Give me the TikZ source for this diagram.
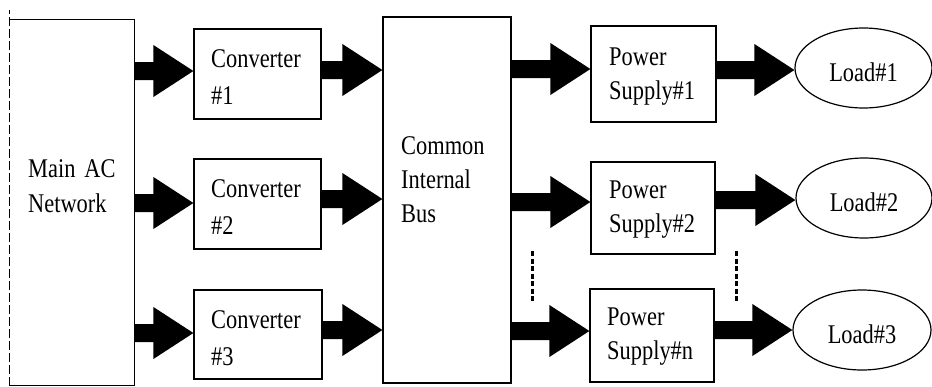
\documentclass[tikz,border=0pt]{standalone}
\usepackage{fontspec}
\setmainfont{Liberation Serif}[FakeStretch=0.83]
\usetikzlibrary{calc,shapes.geometric}
\tikzset{
  box/.style={draw, line width=1.2pt, rectangle, inner sep=0pt},
  loadnode/.style={draw, line width=1.2pt, ellipse, inner sep=0pt,
    minimum width=137pt, minimum height=80pt, text height=26pt, text depth=0pt},
  lbl/.style={anchor=base west, inner sep=0pt, align=left, text width=120pt},
  convfont/.style={font=\fontsize{27}{37.5}\selectfont},
  psfont/.style={font=\fontsize{27}{34}\selectfont},
  dots/.style={line width=3pt, dash pattern=on 5pt off 2.5pt},
}
% block arrow: #1 start anchor (x), #2 tip anchor (x), #3 y reference, #4 shift (px, downward)
\newcommand\blockarr[4]{%
  \fill let \p1=(#1), \p2=(#2), \p3=($(#3)+(0,#4)$) in
    (\x1,\y3+9pt) -- (\x2-40pt,\y3+9pt) -- (\x2-40pt,\y3+26pt) -- (\x2,\y3)
    -- (\x2-40pt,\y3-26pt) -- (\x2-40pt,\y3-9pt) -- (\x1,\y3-9pt) -- cycle;}
\begin{document}
\begin{tikzpicture}[x=1pt,y=-1pt,font=\fontsize{27}{35}\selectfont]
\useasboundingbox (0,0) rectangle (932,386);

% Main AC network (left edge dashed)
\node[box, draw=none, minimum width=124pt, minimum height=365pt] (main) at (72,202.5) {};
\draw[line width=1.2pt] (main.north west) -- (main.north east) -- (main.south east) -- (main.south west);
\draw[line width=1.2pt, dash pattern=on 9pt off 3pt] (main.south west) -- ($(main.north west)+(0,-9)$);
\node[lbl] (mainT) at (28,177) {Main AC\\Network};

% Converters
\node[box, minimum width=127pt, minimum height=90pt] (conv1) at (257.5,74) {};
\node[box, minimum width=127pt, minimum height=90pt] (conv2) at (257.5,204) {};
\node[box, minimum width=128pt, minimum height=89pt] (conv3) at (258,334.5) {};
\node[lbl, convfont] (conv1T) at (211,67) {Converter\\\#1};
\node[lbl, convfont] (conv2T) at (211,197) {Converter\\\#2};
\node[lbl, convfont] (conv3T) at (211,328) {Converter\\\#3};

% Common internal bus
\node[box, minimum width=128pt, minimum height=366pt] (bus) at (447,200) {};
\node[lbl, psfont] (busT) at (401,154) {Common\\Internal\\Bus};

% Power supplies
\node[box, minimum width=125pt, minimum height=96pt] (ps1) at (653.5,74) {};
\node[box, minimum width=124pt, minimum height=92pt] (ps2) at (653,208) {};
\node[box, minimum width=124pt, minimum height=93pt] (psn) at (652,335.5) {};
\node[lbl, psfont] (ps1T) at (609,65) {Power\\Supply\#1};
\node[lbl, psfont] (ps2T) at (609,198) {Power\\Supply\#2};
\node[lbl, psfont] (psnT) at (607,325) {Power\\Supply\#n};

% Loads
\node[loadnode] (load1) at (863.5,68) {Load\#1};
\node[loadnode, minimum width=136pt] (load2) at (864,198) {Load\#2};
\node[loadnode, minimum width=138pt] (load3) at (862,330) {Load\#3};

% Block arrows
\blockarr{main.east}{conv1.west}{conv1.center}{-3}
\blockarr{main.east}{conv2.west}{conv2.center}{-1}
\blockarr{main.east}{conv3.west}{conv3.center}{-1.5}
\blockarr{conv1.east}{bus.west}{conv1.center}{-4}
\blockarr{conv2.east}{bus.west}{conv2.center}{-5}
\blockarr{conv3.east}{bus.west}{conv3.center}{-4.5}
\blockarr{bus.east}{ps1.west}{ps1.center}{-5}
\blockarr{bus.east}{ps2.west}{ps2.center}{-6}
\blockarr{bus.east}{psn.west}{psn.center}{-4.5}
\blockarr{ps1.east}{load1.west}{load1.center}{2}
\blockarr{ps2.east}{load2.west}{load2.center}{2}
\blockarr{psn.east}{load3.west}{load3.center}{0}

% Continuation dots
\coordinate (d1t) at (532,251); \coordinate (d1b) at (532,303);
\coordinate (d2t) at (736,251); \coordinate (d2b) at (736,303);
\draw[dots] (d1t) -- (d1b);
\draw[dots] (d2t) -- (d2b);
\end{tikzpicture}
\end{document}
